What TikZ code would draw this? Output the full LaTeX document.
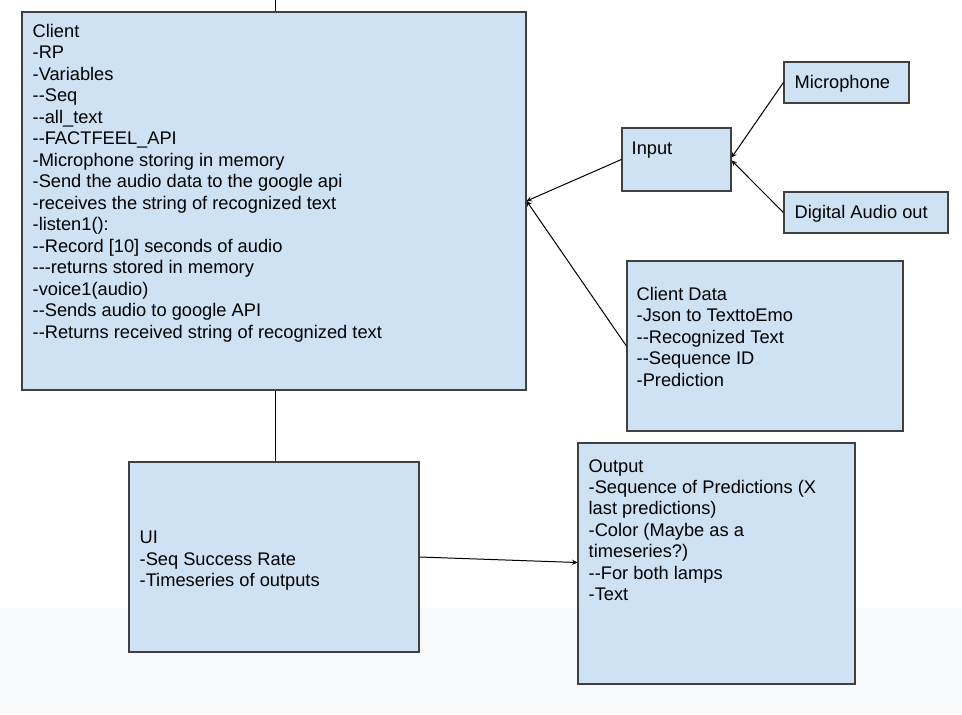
\documentclass[tikz,border=0pt]{standalone}
\usepackage{fontspec}
\newfontfamily\arialfont{Liberation Sans}
\usetikzlibrary{positioning, arrows, calc}
\definecolor{boxblue}{HTML}{CFE2F3}
\definecolor{pagegray}{HTML}{F8F9FA}
\tikzset{
	->,
	>=stealth,
	block/.style 2 args={draw=black!75, line width=0.9pt, fill=boxblue, inner sep=0pt, minimum width=#1*0.75pt, minimum height=#2*0.75pt},
	txt/.style={anchor=north west, inner sep=0pt, align=left, yshift=-1.2pt, font=\arialfont\fontsize{13.7}{16.1}\selectfont},
	link/.style={line width=0.75pt},
}
\begin{document}
\begin{tikzpicture}[x=0.75pt, y=-0.75pt]
			\fill[white] (0,0) rectangle (962,608);
			\fill[pagegray] (0,608) rectangle (962,714);
			\useasboundingbox (0,0) rectangle (962,714);
			
			\node[block={504}{378}] (CLIENT) at (274,201) {};
			\node[block={125}{41}] (MIC) at (846.5,82.5) {};
			\node[block={109}{63}] (INPUT) at (676.5,159.5) {};
			\node[block={164}{41}] (AUDIO) at (866,212.5) {};
			\node[block={276}{170}] (DATA) at (765,346) {};
			\node[block={290}{190}] (UI) at (274,557) {};
			\node[block={277}{241}] (OUTPUT) at (716.5,563.5) {};
			\coordinate (top) at (275,0);
			
			\node[txt] (tclient) at ($(CLIENT.north west)+(11,11)$) {Client\\-RP\\-Variables\\--Seq\\--all\_text\\--FACTFEEL\_API\\-Microphone storing in memory\\-Send the audio data to the google api\\-receives the string of recognized text\\-listen1():\\--Record [10] seconds of audio\\---returns stored in memory\\-voice1(audio)\\--Sends audio to google API\\--Returns received string of recognized text};
			\node[txt, anchor=west] (tmic) at ($(MIC.west)+(11,0)$) {Microphone};
			\node[txt] (tinput) at ($(INPUT.north west)+(10,13)$) {Input};
			\node[txt, anchor=west] (taudio) at ($(AUDIO.west)+(11,0)$) {Digital Audio out};
			\node[txt] (tdata) at ($(DATA.north west)+(10,25)$) {Client Data\\-Json to TexttoEmo\\--Recognized Text\\--Sequence ID\\-Prediction};
			\node[txt] (tui) at ($(UI.north west)+(11,68)$) {UI\\-Seq Success Rate\\-Timeseries of outputs};
			\node[txt] (toutput) at ($(OUTPUT.north west)+(11,15)$) {Output\\-Sequence of Predictions (X\\last predictions)\\-Color (Maybe as a\\timeseries?)\\--For both lamps\\-Text};
			
			\draw[-, link] (top) -- (CLIENT.north -| top);
			\draw[-, link] (CLIENT.south -| top) -- (UI.north -| top);
			\draw[link] (MIC.west) -- ($(INPUT.east)+(0,-2)$);
			\draw[link] (AUDIO.west) -- ($(INPUT.east)+(0,1)$);
			\draw[link] (INPUT.west) -- (CLIENT.east);
			\draw[link] (DATA.west) -- (CLIENT.east);
			\draw[link] (UI.east) -- ($(OUTPUT.west)+(0,-1)$);
			
		\end{tikzpicture}
\end{document}
